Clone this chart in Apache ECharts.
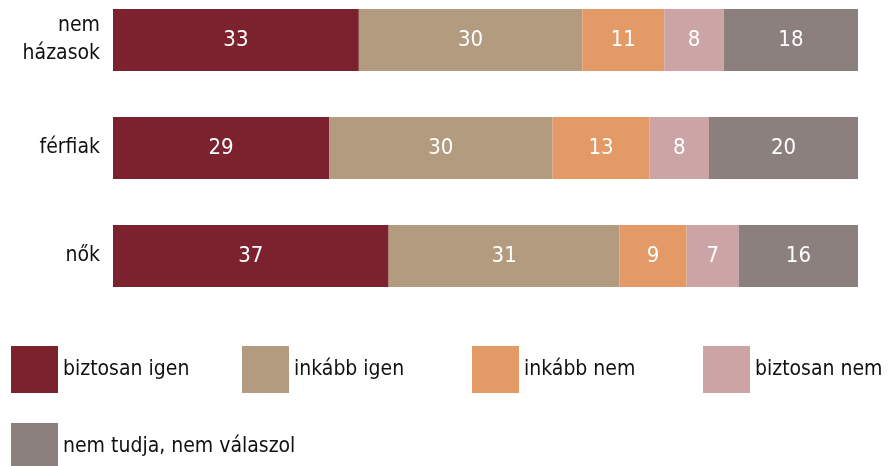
<!DOCTYPE html>
<html>
<head>
<meta charset="utf-8">
<script src="https://cdn.jsdelivr.net/npm/echarts@6/dist/echarts.min.js"></script>
<style>
  html, body { margin: 0; padding: 0; background: #fff; }
  #holder { width: 891px; height: 466px; }
</style>
</head>
<body>
<div id="holder"></div>
<script>
// kategóriák alulról felfelé
var categories = ['nők', 'férfiak', 'nem\nházasok']
var seriesNames = ['biztosan igen', 'inkább igen', 'inkább nem', 'biztosan nem', 'nem tudja, nem válaszol']
var biztosanIgen = [37, 29, 33]
var inkabbIgen = [31, 30, 30]
var inkabbNem = [9, 13, 11]
var biztosanNem = [7, 8, 8]
var nemTudja = [16, 20, 18]
var colors = ['#7b222e', '#b39b80', '#e39a66', '#cda4a5', '#8c807f']

var font = '"Liberation Sans Narrow", "DejaVu Sans Condensed", "Roboto", sans-serif'
var values = [biztosanIgen, inkabbIgen, inkabbNem, biztosanNem, nemTudja]

// jelmagyarázat helyek
var legendPos = [[11, 346], [242, 346], [472, 346], [703, 346], [11, 423]]

var myChart = echarts.init(document.getElementById('holder'))

var series = seriesNames.map((name, i) => {
  return {
    name: name,
    type: 'bar',
    stack: 'total',
    barWidth: 62,
    data: values[i],
    itemStyle: { color: colors[i] },
    label: {
      show: true,
      position: 'inside',
      color: '#fff',
      fontFamily: font,
      fontSize: 22
    }
  }
})

var legends = seriesNames.map((name, i) => {
  return {
    data: [name],
    left: legendPos[i][0],
    top: legendPos[i][1],
    padding: 0,
    itemWidth: 47, itemHeight: 47,
    icon: 'rect',
    textStyle: { fontFamily: font, fontSize: 21, color: '#111' }
  }
})

var option = {
  animation: false,
  grid: { left: 113, width: 745, top: -14, height: 324, outerBoundsMode: 'none' },
  legend: legends,
  xAxis: { type: 'value', min: 0, max: 100, show: false },
  yAxis: {
    type: 'category',
    data: categories,
    axisLine: { show: false },
    axisTick: { show: false },
    axisLabel: {
      margin: 13,
      color: '#111',
      fontFamily: font,
      fontSize: 21,
      lineHeight: 28,
      align: 'right',
      padding: [6, 0, 0, 0]
    }
  },
  series: series
}

myChart.setOption(option)
</script>
</body>
</html>
